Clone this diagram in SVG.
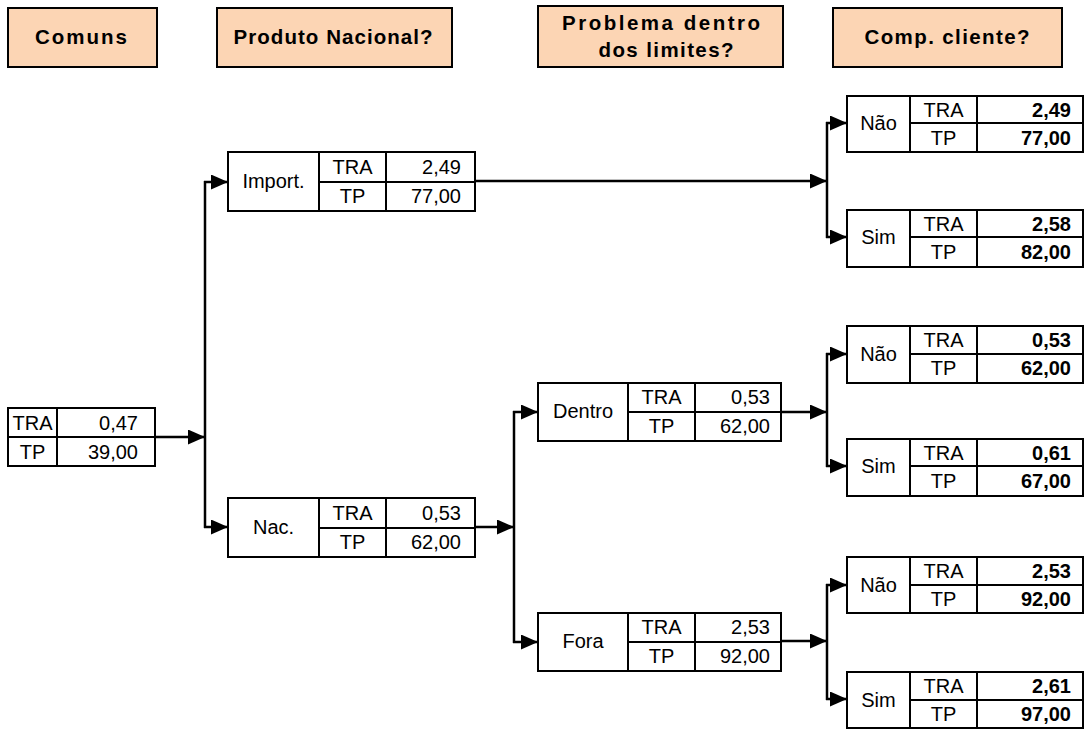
<svg xmlns="http://www.w3.org/2000/svg" width="1087" height="729" viewBox="0 0 1087 729">
<defs>
<style>
.hdr{fill:#FCD5B4;stroke:#000;stroke-width:2}
.ht{font-family:"Liberation Sans",Arial,sans-serif;font-weight:bold;font-size:20.5px;text-anchor:middle;fill:#000}
.box{fill:#fff;stroke:#000;stroke-width:2}
.ln{stroke:#000;stroke-width:2;fill:none}
.t{font-family:"Liberation Sans",Arial,sans-serif;font-size:20px;fill:#000}
.c{text-anchor:middle}
.r{text-anchor:end}
.b{font-weight:bold}
.con{stroke:#000;stroke-width:2.5;fill:none}
</style>
<marker id="ah" markerUnits="userSpaceOnUse" markerWidth="17" markerHeight="15" refX="17" refY="7.5" orient="auto">
<path d="M0,0 L17,7.5 L0,15 z" fill="#000"/>
</marker>
</defs>
<rect width="1087" height="729" fill="#fff"/>

<g id="headers">
<g id="h-comuns"><rect class="hdr" x="8" y="8" width="149" height="59"/><text class="ht" x="81" y="44" textLength="92" lengthAdjust="spacing">Comuns</text></g>
<g id="h-produto"><rect class="hdr" x="217" y="8" width="235" height="59"/><text class="ht" x="333" y="44" textLength="199" lengthAdjust="spacing">Produto Nacional?</text></g>
<g id="h-problema"><rect class="hdr" x="538" y="6" width="245" height="61"/><text class="ht" x="661" y="30" textLength="198" lengthAdjust="spacing">Problema dentro</text><text class="ht" x="666" y="57" textLength="135" lengthAdjust="spacing">dos limites?</text></g>
<g id="h-comp"><rect class="hdr" x="833" y="8" width="229" height="59"/><text class="ht" x="947" y="44" textLength="165" lengthAdjust="spacing">Comp. cliente?</text></g>
</g>

<g id="connectors">
<path class="con" d="M155,437 H205" marker-end="url(#ah)"/>
<path class="con" d="M205,181 V528"/>
<path class="con" d="M204,182 H228" marker-end="url(#ah)"/>
<path class="con" d="M204,527 H228" marker-end="url(#ah)"/>
<path class="con" d="M475,181 H827" marker-end="url(#ah)"/>
<path class="con" d="M827,122 V238"/>
<path class="con" d="M826,123 H847" marker-end="url(#ah)"/>
<path class="con" d="M826,237 H847" marker-end="url(#ah)"/>
<path class="con" d="M475,527 H514" marker-end="url(#ah)"/>
<path class="con" d="M514,411 V643"/>
<path class="con" d="M513,412 H538" marker-end="url(#ah)"/>
<path class="con" d="M513,642 H538" marker-end="url(#ah)"/>
<path class="con" d="M781,412 H827" marker-end="url(#ah)"/>
<path class="con" d="M827,353 V467"/>
<path class="con" d="M826,354 H847" marker-end="url(#ah)"/>
<path class="con" d="M826,466 H847" marker-end="url(#ah)"/>
<path class="con" d="M781,641 H827" marker-end="url(#ah)"/>
<path class="con" d="M827,584 V700"/>
<path class="con" d="M826,585 H847" marker-end="url(#ah)"/>
<path class="con" d="M826,699 H847" marker-end="url(#ah)"/>
</g>

<g id="root">
<rect class="box" x="8" y="408" width="147" height="58"/>
<line class="ln" x1="8" y1="437" x2="155" y2="437"/>
<line class="ln" x1="57" y1="408" x2="57" y2="466"/>
<text class="t c" x="32.5" y="430">TRA</text><text class="t r" x="138" y="430">0,47</text>
<text class="t c" x="32.5" y="459">TP</text><text class="t r" x="138" y="459">39,00</text>
</g>

<g id="import">
<rect class="box" x="228" y="152" width="247" height="59"/>
<line class="ln" x1="319" y1="182" x2="475" y2="182"/>
<line class="ln" x1="319" y1="152" x2="319" y2="211"/>
<line class="ln" x1="386" y1="152" x2="386" y2="211"/>
<text class="t c" x="273.5" y="188">Import.</text>
<text class="t c" x="352.5" y="174">TRA</text><text class="t r" x="461" y="174">2,49</text>
<text class="t c" x="352.5" y="203">TP</text><text class="t r" x="461" y="203">77,00</text>
</g>

<g id="nac">
<rect class="box" x="228" y="498" width="247" height="59"/>
<line class="ln" x1="319" y1="528" x2="475" y2="528"/>
<line class="ln" x1="319" y1="498" x2="319" y2="557"/>
<line class="ln" x1="386" y1="498" x2="386" y2="557"/>
<text class="t c" x="273.5" y="534">Nac.</text>
<text class="t c" x="352.5" y="520">TRA</text><text class="t r" x="461" y="520">0,53</text>
<text class="t c" x="352.5" y="549">TP</text><text class="t r" x="461" y="549">62,00</text>
</g>

<g id="dentro">
<rect class="box" x="538" y="383" width="243" height="58"/>
<line class="ln" x1="628" y1="412" x2="781" y2="412"/>
<line class="ln" x1="628" y1="383" x2="628" y2="441"/>
<line class="ln" x1="695" y1="383" x2="695" y2="441"/>
<text class="t c" x="583" y="418">Dentro</text>
<text class="t c" x="661.5" y="404">TRA</text><text class="t r" x="770" y="404">0,53</text>
<text class="t c" x="661.5" y="433">TP</text><text class="t r" x="770" y="433">62,00</text>
</g>

<g id="fora">
<rect class="box" x="538" y="613" width="243" height="58"/>
<line class="ln" x1="628" y1="642" x2="781" y2="642"/>
<line class="ln" x1="628" y1="613" x2="628" y2="671"/>
<line class="ln" x1="695" y1="613" x2="695" y2="671"/>
<text class="t c" x="583" y="648">Fora</text>
<text class="t c" x="661.5" y="634">TRA</text><text class="t r" x="770" y="634">2,53</text>
<text class="t c" x="661.5" y="663">TP</text><text class="t r" x="770" y="663">92,00</text>
</g>

<g id="imp-nao">
<rect class="box" x="847" y="96" width="236" height="56"/>
<line class="ln" x1="910" y1="123" x2="1083" y2="123"/>
<line class="ln" x1="910" y1="96" x2="910" y2="152"/>
<line class="ln" x1="977" y1="96" x2="977" y2="152"/>
<text class="t c" x="878.5" y="130">Não</text>
<text class="t c" x="943.5" y="117">TRA</text><text class="t r b" x="1071" y="117">2,49</text>
<text class="t c" x="943.5" y="145">TP</text><text class="t r b" x="1071" y="145">77,00</text>
</g>

<g id="imp-sim">
<rect class="box" x="847" y="210" width="236" height="57"/>
<line class="ln" x1="910" y1="237" x2="1083" y2="237"/>
<line class="ln" x1="910" y1="210" x2="910" y2="267"/>
<line class="ln" x1="977" y1="210" x2="977" y2="267"/>
<text class="t c" x="878.5" y="244">Sim</text>
<text class="t c" x="943.5" y="231">TRA</text><text class="t r b" x="1071" y="231">2,58</text>
<text class="t c" x="943.5" y="259">TP</text><text class="t r b" x="1071" y="259">82,00</text>
</g>

<g id="den-nao">
<rect class="box" x="847" y="326" width="236" height="57"/>
<line class="ln" x1="910" y1="354" x2="1083" y2="354"/>
<line class="ln" x1="910" y1="326" x2="910" y2="383"/>
<line class="ln" x1="977" y1="326" x2="977" y2="383"/>
<text class="t c" x="878.5" y="361">Não</text>
<text class="t c" x="943.5" y="347">TRA</text><text class="t r b" x="1071" y="347">0,53</text>
<text class="t c" x="943.5" y="375">TP</text><text class="t r b" x="1071" y="375">62,00</text>
</g>

<g id="den-sim">
<rect class="box" x="847" y="439" width="236" height="57"/>
<line class="ln" x1="910" y1="466" x2="1083" y2="466"/>
<line class="ln" x1="910" y1="439" x2="910" y2="496"/>
<line class="ln" x1="977" y1="439" x2="977" y2="496"/>
<text class="t c" x="878.5" y="473">Sim</text>
<text class="t c" x="943.5" y="460">TRA</text><text class="t r b" x="1071" y="460">0,61</text>
<text class="t c" x="943.5" y="488">TP</text><text class="t r b" x="1071" y="488">67,00</text>
</g>

<g id="for-nao">
<rect class="box" x="847" y="557" width="236" height="56"/>
<line class="ln" x1="910" y1="585" x2="1083" y2="585"/>
<line class="ln" x1="910" y1="557" x2="910" y2="613"/>
<line class="ln" x1="977" y1="557" x2="977" y2="613"/>
<text class="t c" x="878.5" y="592">Não</text>
<text class="t c" x="943.5" y="578">TRA</text><text class="t r b" x="1071" y="578">2,53</text>
<text class="t c" x="943.5" y="606">TP</text><text class="t r b" x="1071" y="606">92,00</text>
</g>

<g id="for-sim">
<rect class="box" x="847" y="672" width="236" height="56"/>
<line class="ln" x1="910" y1="700" x2="1083" y2="700"/>
<line class="ln" x1="910" y1="672" x2="910" y2="728"/>
<line class="ln" x1="977" y1="672" x2="977" y2="728"/>
<text class="t c" x="878.5" y="707">Sim</text>
<text class="t c" x="943.5" y="693">TRA</text><text class="t r b" x="1071" y="693">2,61</text>
<text class="t c" x="943.5" y="721">TP</text><text class="t r b" x="1071" y="721">97,00</text>
</g>
</svg>
